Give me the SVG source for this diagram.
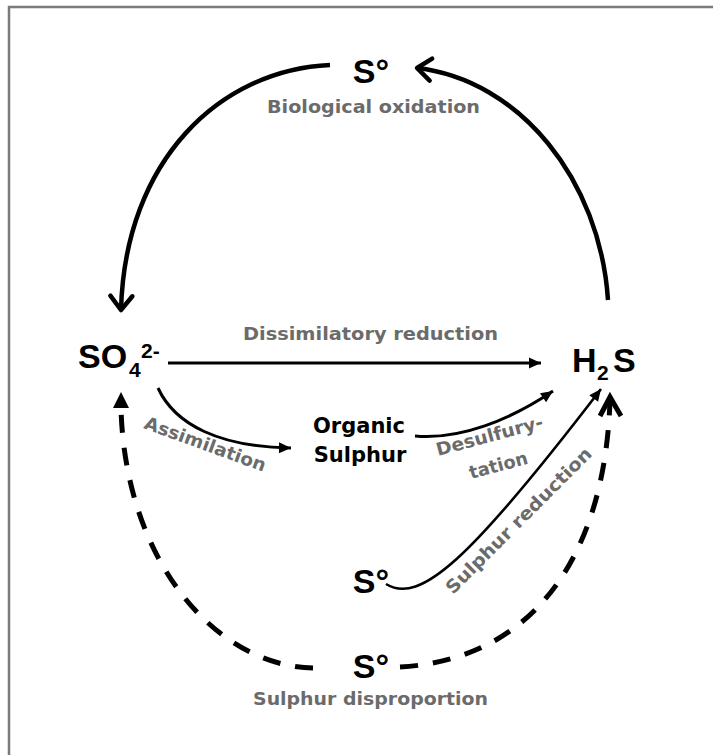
<svg xmlns="http://www.w3.org/2000/svg" width="713" height="755" viewBox="0 0 713 755">
<style>
.chem{font-family:"Liberation Sans",Arial,sans-serif;font-weight:bold;fill:#000}
.org{font-family:"DejaVu Sans","Liberation Sans",sans-serif;font-weight:bold;font-size:21px;fill:#000}
.lbl{font-family:"DejaVu Sans","Liberation Sans",sans-serif;font-weight:bold;font-size:18px;fill:#6b6b6b}
.thick{fill:none;stroke:#000;stroke-width:4.5}
.mid{fill:none;stroke:#000;stroke-width:3}
.thin{fill:none;stroke:#000;stroke-width:2.6}
.dash{fill:none;stroke:#000;stroke-width:5;stroke-dasharray:18 15}
</style>
<defs>
<marker id="chev" viewBox="-20 -15 24 30" refX="0" refY="0" markerWidth="24" markerHeight="30" markerUnits="userSpaceOnUse" orient="auto">
<path d="M-14,-11 L0,0 L-14,11" fill="none" stroke="#000" stroke-width="4.5" stroke-linecap="round" stroke-linejoin="round"/>
</marker>
<marker id="tri" viewBox="-13 -7 14 14" refX="0" refY="0" markerWidth="14" markerHeight="14" markerUnits="userSpaceOnUse" orient="auto">
<path d="M-12,-5.5 L0,0 L-12,5.5 Z" fill="#000"/>
</marker>
<marker id="triBig" viewBox="-17 -9 18 18" refX="0" refY="0" markerWidth="18" markerHeight="18" markerUnits="userSpaceOnUse" orient="auto">
<path d="M-16,-8 L0,0 L-16,8 Z" fill="#000"/>
</marker>
</defs>
<rect x="9" y="7" width="800" height="800" fill="none" stroke="#7a7a7a" stroke-width="2.5"/>
<g id="connectors">
<path class="thick" d="M330 65 C220 70 125 160 121 310" marker-end="url(#chev)"/>
<path class="thick" d="M608 300 C600 180 520 80 417 68" marker-end="url(#chev)"/>
<path class="mid" d="M168 363 L541 363" marker-end="url(#tri)"/>
<path class="mid" d="M158 388 C175 425 220 447 291 448" marker-end="url(#tri)"/>
<path class="mid" d="M415 436 C460 440 510 420 553 391" marker-end="url(#tri)"/>
<path class="thin" d="M386 584 C420 605 470 560 601 389" marker-end="url(#tri)"/>
<path class="dash" d="M313 668 C215 666 125 560 121 408"/>
<path d="M121 392 L129 408 L113 408 Z" fill="#000"/>
<path class="dash" d="M400 667 C530 660 605 560 610 400"/>
<path d="M600 416 L610 397 L621 416" fill="none" stroke="#000" stroke-width="5" stroke-linejoin="miter"/>
</g>
<g id="node-s-top">
<text class="chem" x="371" y="83" font-size="34" text-anchor="middle">S°</text>
<text class="lbl" x="267" y="113" textLength="213" lengthAdjust="spacingAndGlyphs">Biological oxidation</text>
</g>
<g id="node-so4">
<text class="chem" x="78" y="368" font-size="34">SO</text>
<text class="chem" x="129" y="377" font-size="21">4</text>
<text class="chem" x="141" y="358" font-size="21">2-</text>
</g>
<g id="node-h2s">
<text class="chem" x="572" y="372" font-size="34">H</text>
<text class="chem" x="597" y="380" font-size="21">2</text>
<text class="chem" x="613" y="372" font-size="34">S</text>
</g>
<g id="node-organic">
<text class="org" x="359" y="433" text-anchor="middle">Organic</text>
<text class="org" x="360" y="462" text-anchor="middle">Sulphur</text>
</g>
<g id="node-s-mid">
<text class="chem" x="371" y="593" font-size="34" text-anchor="middle">S°</text>
</g>
<g id="node-s-bottom">
<text class="chem" x="371" y="678" font-size="34" text-anchor="middle">S°</text>
<text class="lbl" x="253" y="705" textLength="235" lengthAdjust="spacingAndGlyphs">Sulphur disproportion</text>
</g>
<g id="labels">
<text class="lbl" x="243" y="340" textLength="255" lengthAdjust="spacingAndGlyphs">Dissimilatory reduction</text>
<text class="lbl" transform="translate(143 428) rotate(20)" x="0" y="0" textLength="128" lengthAdjust="spacingAndGlyphs">Assimilation</text>
<text class="lbl" transform="translate(438 456) rotate(-15)" x="0" y="0" textLength="110" lengthAdjust="spacingAndGlyphs">Desulfury-</text>
<text class="lbl" transform="translate(471 479) rotate(-15)" x="0" y="0" textLength="60" lengthAdjust="spacingAndGlyphs">tation</text>
<text class="lbl" transform="translate(453 595) rotate(-45)" x="0" y="0" textLength="198" lengthAdjust="spacingAndGlyphs">Sulphur reduction</text>
</g>
</svg>
